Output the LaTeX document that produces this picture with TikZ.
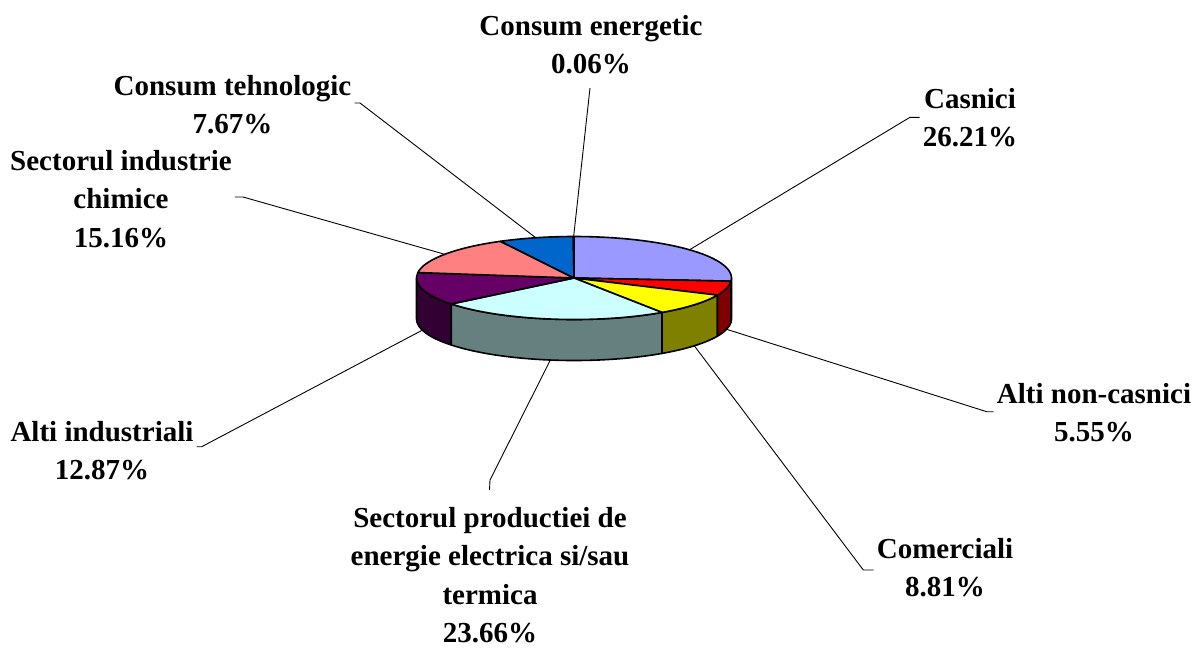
\documentclass[tikz,border=0pt]{standalone}
\usepackage{fontspec}
\setmainfont{Liberation Serif}
\usetikzlibrary{calc}
\definecolor{cLav}{HTML}{9999FF}
\definecolor{cLavS}{HTML}{4C4C80}
\definecolor{cRed}{HTML}{FF0000}
\definecolor{cRedS}{HTML}{800000}
\definecolor{cYel}{HTML}{FFFF00}
\definecolor{cYelS}{HTML}{808000}
\definecolor{cCya}{HTML}{CCFFFF}
\definecolor{cCyaS}{HTML}{668080}
\definecolor{cPur}{HTML}{660066}
\definecolor{cPurS}{HTML}{330033}
\definecolor{cSal}{HTML}{FF8080}
\definecolor{cBlu}{HTML}{0066CC}
\definecolor{cPal}{HTML}{CCCCFF}
\tikzset{
  pieedge/.style={draw=black, line width=1.6pt, line join=round},
  leader/.style={draw=black, line width=0.9pt},
  lbl/.style={align=center, inner xsep=3pt, inner ysep=0pt, anchor=north,
    font=\fontsize{29pt}{38.5pt}\selectfont\bfseries},
}
\def\rx{157.5}
\def\ry{41.5}
\def\dd{41}
\newcommand\sidepiece[3]{\filldraw[pieedge, fill=#3] ($(Ob)+(#1:\rx pt and \ry pt)$) arc[start angle=#1, end angle=#2, x radius=\rx pt, y radius=\ry pt] -- ++(0,\dd) arc[start angle=#2, end angle=#1, x radius=\rx pt, y radius=\ry pt] -- cycle;}
\newcommand\topslice[3]{\filldraw[pieedge, fill=#3] (O) -- ($(O)+(#1:\rx pt and \ry pt)$) arc[start angle=#1, end angle=#2, x radius=\rx pt, y radius=\ry pt] -- cycle;}
\begin{document}
\begin{tikzpicture}[x=1pt,y=1pt]
\fill[white] (0,0) rectangle (1194,-648);
\path[use as bounding box] (0,0) rectangle (1194,-648);
\coordinate (O) at (574,-278);
\coordinate (Ob) at (574,-319);
% sides
\sidepiece{180}{218.772}{cPurS}
\sidepiece{218.772}{303.948}{cCyaS}
\sidepiece{303.948}{335.664}{cYelS}
\sidepiece{335.664}{355.644}{cRedS}
\sidepiece{355.644}{360}{cLavS}
% top
\topslice{90}{-4.356}{cLav}
\topslice{-4.356}{-24.336}{cRed}
\topslice{-24.336}{-56.052}{cYel}
\topslice{-56.052}{-141.228}{cCya}
\topslice{-141.228}{-187.56}{cPur}
\topslice{-187.56}{-242.136}{cSal}
\topslice{-242.136}{-269.748}{cBlu}
\topslice{-269.748}{-269.964}{cPal}
% leader anchor points on the pie
\coordinate (pCE) at ($(O)+(90.126:\rx pt and \ry pt)$);
\coordinate (pCT) at ($(O)+(104.058:\rx pt and \ry pt)$);
\coordinate (pCH) at ($(O)+(145.152:\rx pt and \ry pt)$);
\coordinate (pCA) at ($(O)+(42.822:\rx pt and \ry pt)$);
\coordinate (pANC) at ($(Ob)+(-14.346:\rx pt and \ry pt)$);
\coordinate (pCOM) at ($(Ob)+(-40.194:\rx pt and \ry pt)$);
\coordinate (pSP) at ($(Ob)+(-98.64:\rx pt and \ry pt)$);
\coordinate (pAI) at ($(Ob)+(-164.394:\rx pt and \ry pt)$);
% labels
\node[lbl] (lCE) at (591,-15) {Consum energetic\\0.06\%};
\node[lbl] (lCT) at (232.5,-75) {Consum tehnologic\\7.67\%};
\node[lbl] (lCH) at (121,-150) {Sectorul industrie\\chimice\\15.16\%};
\node[lbl] (lCA) at (970,-88) {Casnici\\26.21\%};
\node[lbl] (lANC) at (1094,-383) {Alti non-casnici\\5.55\%};
\node[lbl] (lCOM) at (945,-538) {Comerciali\\8.81\%};
\node[lbl] (lAI) at (102,-421) {Alti industriali\\12.87\%};
\node[lbl] (lSP) at (490,-506.7) {Sectorul productiei de\\energie electrica si/sau\\termica\\23.66\%};
% knees
\coordinate (eCE) at (590,-88);
\coordinate (kCT) at (360,-103);
\coordinate (kCH) at (243,-197);
\coordinate (kCA) at (910,-117.3);
\coordinate (kANC) at (986.7,-411.7);
\coordinate (kCOM) at (863.3,-570);
\coordinate (kAI) at (201.7,-446.7);
\coordinate (kSP) at (490,-480);
\coordinate (eSP) at (489.5,-490);
% leaders
\draw[leader] (pCE) -- (eCE);
\draw[leader] (pCT) -- (kCT) -- (kCT -| lCT.east);
\draw[leader] (pCH) -- (kCH) -- (kCH -| lCH.east);
\draw[leader] (pCA) -- (kCA) -- (kCA -| lCA.west);
\draw[leader] (pANC) -- (kANC) -- (kANC -| lANC.west);
\draw[leader] (pCOM) -- (kCOM) -- (kCOM -| lCOM.west);
\draw[leader] (pAI) -- (kAI) -- (kAI -| lAI.east);
\draw[leader] (pSP) -- (kSP) -- (eSP);
\end{tikzpicture}
\end{document}
